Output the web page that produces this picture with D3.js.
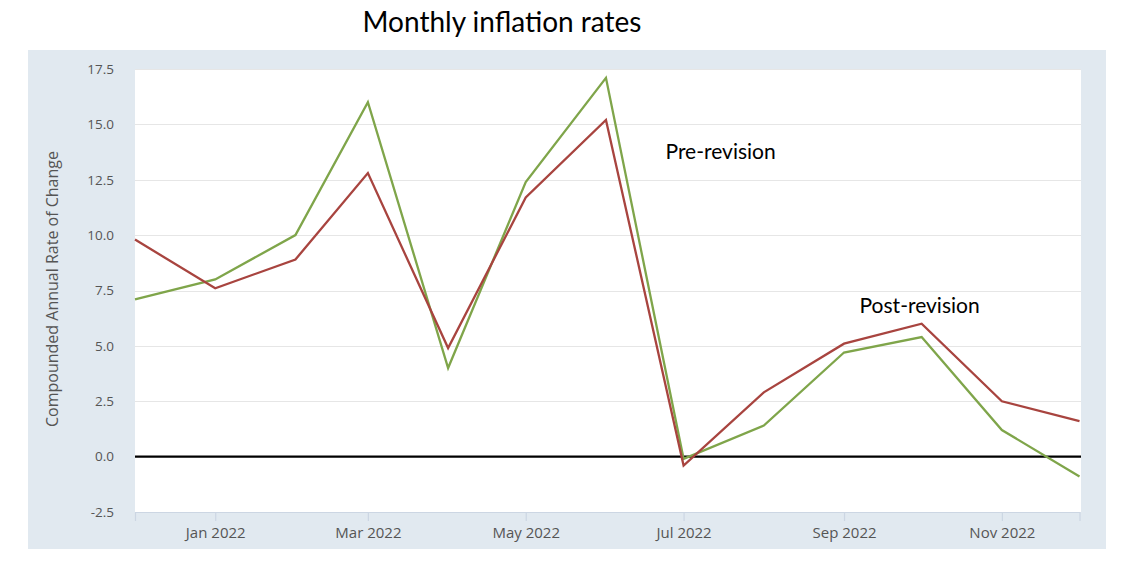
<!DOCTYPE html>
<html>
<head>
<meta charset="utf-8">
<script src="https://cdn.jsdelivr.net/npm/d3@7"></script>
<style>
  html, body { margin: 0; padding: 0; background: #ffffff; }
  svg { display: block; }
</style>
</head>
<body>
<svg id="chart" width="1130" height="564"></svg>
<script>
// ---- Data ----
const months = ["2021-12-01","2022-01-01","2022-02-01","2022-03-01","2022-04-01","2022-05-01","2022-06-01",
                "2022-07-01","2022-08-01","2022-09-01","2022-10-01","2022-11-01","2022-12-01"];
const redSeries   = [9.8, 7.6, 8.9, 12.8, 4.9, 11.7, 15.2, -0.4, 2.9, 5.1, 6.0, 2.5, 1.6];
const greenSeries = [7.1, 8.0, 10.0, 16.0, 4.0, 12.4, 17.1, -0.1, 1.4, 4.7, 5.4, 1.2, -0.9];
const yTicks = [-2.5, 0, 2.5, 5, 7.5, 10, 12.5, 15, 17.5];
const xTickDates = ["2022-01-01","2022-03-01","2022-05-01","2022-07-01","2022-09-01","2022-11-01"];
const titleText = "Monthly inflation rates";
const yAxisTitle = "Compounded Annual Rate of Change";
const annotations = [
  { text: "Pre-revision",  date: "2022-06-24", value: 13.45 },
  { text: "Post-revision", date: "2022-09-07", value: 6.5 }
];

// ---- Layout ----
const svg = d3.select("#chart");
const panel = { x: 28, y: 50, w: 1078, h: 499 };
const plot = { left: 135, top: 69, right: 1081, bottom: 512 };
const parse = d3.utcParse("%Y-%m-%d");

svg.append("rect")
  .attr("x", panel.x).attr("y", panel.y)
  .attr("width", panel.w).attr("height", panel.h)
  .attr("fill", "#e1e9f0");

svg.append("rect")
  .attr("x", plot.left).attr("y", plot.top)
  .attr("width", plot.right - plot.left).attr("height", plot.bottom - plot.top)
  .attr("fill", "#ffffff");

const x = d3.scaleUtc()
  .domain([parse(months[0]), parse(months[months.length - 1])])
  .range([plot.left, plot.right - 1.5]);
const y = d3.scaleLinear().domain([-2.5, 17.5]).range([plot.bottom, plot.top]);

// gridlines
svg.append("g")
  .selectAll("line")
  .data(yTicks.filter(d => d !== 0 && d !== -2.5))
  .join("line")
  .attr("x1", plot.left).attr("x2", plot.right)
  .attr("y1", d => Math.round(y(d)) + 0.5).attr("y2", d => Math.round(y(d)) + 0.5)
  .attr("stroke", "#e6e6e6").attr("stroke-width", 1.2);

// y axis
const fmt = d3.format(".1f");
const yAxis = svg.append("g")
  .attr("transform", `translate(${plot.left},0)`)
  .call(d3.axisLeft(y).tickValues(yTicks).tickFormat(d => fmt(d).replace("\u2212", "-")).tickSize(0).tickPadding(21));
yAxis.select(".domain").remove();
yAxis.selectAll("text")
  .attr("fill", "#555555")
  .style("font-family", "'Open Sans', sans-serif")
  .style("font-size", "13.5px");

// x axis
const xAxis = svg.append("g")
  .attr("transform", `translate(0,${plot.bottom})`)
  .call(d3.axisBottom(x).tickValues(xTickDates.map(parse)).tickFormat(d3.utcFormat("%b %Y")).tickSize(9).tickPadding(6));
xAxis.select(".domain")
  .attr("stroke", "#ccd6e3").attr("stroke-width", 1.2);
xAxis.selectAll(".tick line").attr("stroke", "#ccd6e3").attr("stroke-width", 1.2);
xAxis.selectAll("text")
  .attr("fill", "#555555")
  .style("font-family", "'Open Sans', sans-serif")
  .style("font-size", "15px");

// zero line
svg.append("line")
  .attr("x1", plot.left).attr("x2", plot.right)
  .attr("y1", y(0)).attr("y2", y(0))
  .attr("stroke", "#000000").attr("stroke-width", 2.2);

// lines
const line = d3.line().x((d, i) => x(parse(months[i]))).y(d => y(d));
svg.append("path")
  .datum(greenSeries)
  .attr("d", line)
  .attr("fill", "none")
  .attr("stroke", "#7fa54a")
  .attr("stroke-width", 2.3)
  .attr("stroke-linejoin", "miter");
svg.append("path")
  .datum(redSeries)
  .attr("d", line)
  .attr("fill", "none")
  .attr("stroke", "#a8443f")
  .attr("stroke-width", 2.3)
  .attr("stroke-linejoin", "miter");

// y axis title
svg.append("text")
  .attr("transform", `translate(58,289) rotate(-90)`)
  .attr("text-anchor", "middle")
  .attr("fill", "#555555")
  .style("font-family", "'Open Sans', sans-serif")
  .style("font-size", "16px")
  .text(yAxisTitle);

// title
svg.append("text")
  .attr("x", 502).attr("y", 32)
  .attr("text-anchor", "middle")
  .attr("fill", "#000000")
  .style("font-family", "Lato, sans-serif")
  .style("font-size", "28px")
  .text(titleText);

// annotations
svg.append("g")
  .selectAll("text")
  .data(annotations)
  .join("text")
  .attr("x", d => x(parse(d.date)))
  .attr("y", d => y(d.value))
  .attr("text-anchor", "start")
  .attr("fill", "#000000")
  .style("font-family", "Lato, sans-serif")
  .style("font-size", "21px")
  .text(d => d.text);
</script>
</body>
</html>
